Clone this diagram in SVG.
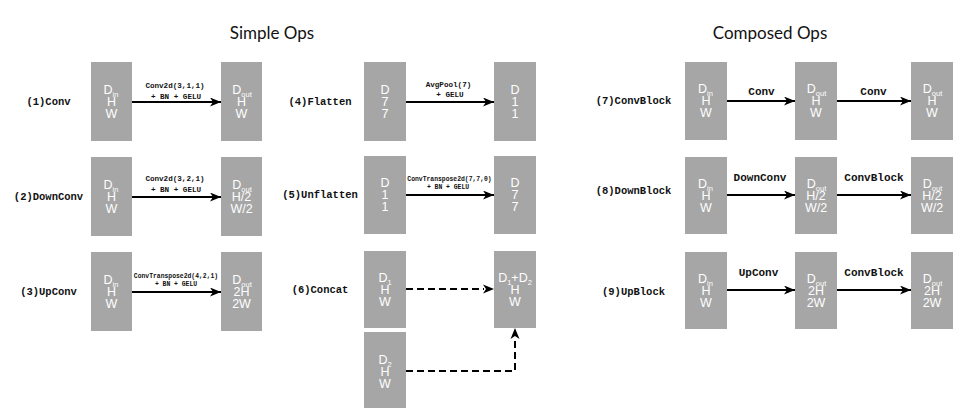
<svg xmlns="http://www.w3.org/2000/svg" width="963" height="408" viewBox="0 0 963 408">
<style>
.box{fill:#a6a6a6}
.bt{font-family:"Liberation Sans",Arial,sans-serif;font-size:12.5px;fill:#ffffff;text-anchor:middle}
.sub{font-size:7.5px}
.op{font-family:"Liberation Mono","Courier New",monospace;font-weight:bold;font-size:10.5px;fill:#111;text-anchor:middle}
.el{font-family:"Liberation Mono","Courier New",monospace;font-weight:bold;font-size:7.6px;fill:#111;text-anchor:middle}
.es{font-family:"Liberation Mono","Courier New",monospace;font-weight:bold;font-size:6.4px;fill:#111;text-anchor:middle}
.cl{font-family:"Liberation Mono","Courier New",monospace;font-weight:bold;font-size:11px;fill:#111;text-anchor:middle}
.title{font-family:Lato,"Open Sans",sans-serif;font-size:17px;fill:#111;text-anchor:middle}
.ar{stroke:#000;stroke-width:2;fill:none;marker-end:url(#ah)}
.da{stroke:#000;stroke-width:2;fill:none;stroke-dasharray:7,4}
</style>
<defs>
<marker id="ah" markerUnits="userSpaceOnUse" markerWidth="12" markerHeight="10" refX="11" refY="4.5" orient="auto">
<path d="M0,0 L11,4.5 L0,9 L3,4.5 z" fill="#000"/>
</marker>
</defs>
<rect width="963" height="408" fill="#ffffff"/>
<text class="title" x="272" y="39">Simple Ops</text>
<text class="title" x="770" y="39">Composed Ops</text>

<!-- labels -->
<g id="labels">
<text class="op" x="48.5" y="105">(1)Conv</text>
<text class="op" x="48.5" y="200">(2)DownConv</text>
<text class="op" x="48.5" y="295">(3)UpConv</text>
<text class="op" x="320" y="105">(4)Flatten</text>
<text class="op" x="320" y="198">(5)Unflatten</text>
<text class="op" x="320" y="293">(6)Concat</text>
<text class="op" x="633.5" y="104">(7)ConvBlock</text>
<text class="op" x="633.5" y="194">(8)DownBlock</text>
<text class="op" x="633.5" y="295">(9)UpBlock</text>
</g>

<!-- Row 1 -->
<g id="conv-in"><rect class="box" x="91" y="62" width="41" height="79"/>
<text class="bt" x="111" y="94">D<tspan class="sub" dy="2.5">in</tspan></text><text class="bt" x="111.5" y="106">H</text><text class="bt" x="111.5" y="118">W</text></g>
<g id="conv-out"><rect class="box" x="221" y="62" width="41" height="79"/>
<text class="bt" x="242" y="94">D<tspan class="sub" dy="2.5">out</tspan></text><text class="bt" x="241.5" y="106">H</text><text class="bt" x="241.5" y="118">W</text></g>
<!-- Row 2 -->
<g id="down-in"><rect class="box" x="91" y="157" width="41" height="79"/>
<text class="bt" x="111" y="189">D<tspan class="sub" dy="2.5">in</tspan></text><text class="bt" x="111.5" y="201">H</text><text class="bt" x="111.5" y="213">W</text></g>
<g id="down-out"><rect class="box" x="221" y="157" width="41" height="79"/>
<text class="bt" x="242" y="189">D<tspan class="sub" dy="2.5">out</tspan></text><text class="bt" x="241.5" y="201">H/2</text><text class="bt" x="241.5" y="213">W/2</text></g>
<!-- Row 3 -->
<g id="up-in"><rect class="box" x="91" y="252" width="41" height="79"/>
<text class="bt" x="111" y="284">D<tspan class="sub" dy="2.5">in</tspan></text><text class="bt" x="111.5" y="296">H</text><text class="bt" x="111.5" y="308">W</text></g>
<g id="up-out"><rect class="box" x="221" y="252" width="41" height="79"/>
<text class="bt" x="242" y="284">D<tspan class="sub" dy="2.5">out</tspan></text><text class="bt" x="241.5" y="296">2H</text><text class="bt" x="241.5" y="308">2W</text></g>

<!-- Row 4 -->
<g id="flat-in"><rect class="box" x="364" y="62" width="42" height="79"/>
<text class="bt" x="385" y="94">D</text><text class="bt" x="385" y="106">7</text><text class="bt" x="385" y="118">7</text></g>
<g id="flat-out"><rect class="box" x="494" y="62" width="42" height="79"/>
<text class="bt" x="515" y="94">D</text><text class="bt" x="515" y="106">1</text><text class="bt" x="515" y="118">1</text></g>
<!-- Row 5 -->
<g id="unflat-in"><rect class="box" x="364" y="156" width="42" height="78"/>
<text class="bt" x="385" y="187">D</text><text class="bt" x="385" y="199">1</text><text class="bt" x="385" y="211">1</text></g>
<g id="unflat-out"><rect class="box" x="494" y="156" width="42" height="78"/>
<text class="bt" x="515" y="187">D</text><text class="bt" x="515" y="199">7</text><text class="bt" x="515" y="211">7</text></g>
<!-- Row 6 -->
<g id="cat-in1"><rect class="box" x="364" y="251" width="42" height="77"/>
<text class="bt" x="385" y="282">D<tspan class="sub" dy="2.5">1</tspan></text><text class="bt" x="385" y="294">H</text><text class="bt" x="385" y="306">W</text></g>
<g id="cat-in2"><rect class="box" x="364" y="332" width="42" height="79"/>
<text class="bt" x="385" y="364">D<tspan class="sub" dy="2.5">2</tspan></text><text class="bt" x="385" y="376">H</text><text class="bt" x="385" y="388">W</text></g>
<g id="cat-out"><rect class="box" x="494" y="251" width="42" height="77"/>
<text class="bt" x="515" y="282">D<tspan class="sub" dy="2.5">1</tspan><tspan dy="-2.5">+D</tspan><tspan class="sub" dy="2.5">2</tspan></text><text class="bt" x="515" y="294">H</text><text class="bt" x="515" y="306">W</text></g>

<!-- Row 7 -->
<g id="cb-in"><rect class="box" x="685" y="62" width="42" height="78"/>
<text class="bt" x="705.5" y="93">D<tspan class="sub" dy="2.5">in</tspan></text><text class="bt" x="706" y="105">H</text><text class="bt" x="706" y="117">W</text></g>
<g id="cb-mid"><rect class="box" x="795" y="62" width="42" height="78"/>
<text class="bt" x="816.5" y="93">D<tspan class="sub" dy="2.5">out</tspan></text><text class="bt" x="816" y="105">H</text><text class="bt" x="816" y="117">W</text></g>
<g id="cb-out"><rect class="box" x="911" y="62" width="42" height="78"/>
<text class="bt" x="932.5" y="93">D<tspan class="sub" dy="2.5">out</tspan></text><text class="bt" x="932" y="105">H</text><text class="bt" x="932" y="117">W</text></g>
<!-- Row 8 -->
<g id="db-in"><rect class="box" x="685" y="157" width="42" height="77"/>
<text class="bt" x="705.5" y="188">D<tspan class="sub" dy="2.5">in</tspan></text><text class="bt" x="706" y="200">H</text><text class="bt" x="706" y="212">W</text></g>
<g id="db-mid"><rect class="box" x="795" y="157" width="42" height="77"/>
<text class="bt" x="816.5" y="188">D<tspan class="sub" dy="2.5">out</tspan></text><text class="bt" x="816" y="200">H/2</text><text class="bt" x="816" y="212">W/2</text></g>
<g id="db-out"><rect class="box" x="911" y="157" width="42" height="77"/>
<text class="bt" x="932.5" y="188">D<tspan class="sub" dy="2.5">out</tspan></text><text class="bt" x="932" y="200">H/2</text><text class="bt" x="932" y="212">W/2</text></g>
<!-- Row 9 -->
<g id="ub-in"><rect class="box" x="685" y="252" width="42" height="77"/>
<text class="bt" x="705.5" y="283">D<tspan class="sub" dy="2.5">in</tspan></text><text class="bt" x="706" y="295">H</text><text class="bt" x="706" y="307">W</text></g>
<g id="ub-mid"><rect class="box" x="795" y="252" width="42" height="77"/>
<text class="bt" x="816.5" y="283">D<tspan class="sub" dy="2.5">out</tspan></text><text class="bt" x="816" y="295">2H</text><text class="bt" x="816" y="307">2W</text></g>
<g id="ub-out"><rect class="box" x="911" y="252" width="42" height="77"/>
<text class="bt" x="932.5" y="283">D<tspan class="sub" dy="2.5">out</tspan></text><text class="bt" x="932" y="295">2H</text><text class="bt" x="932" y="307">2W</text></g>

<!-- connectors -->
<g id="connectors">
<line class="ar" x1="132" y1="102" x2="221" y2="102"/>
<line class="ar" x1="132" y1="197" x2="221" y2="197"/>
<line class="ar" x1="132" y1="292" x2="221" y2="292"/>
<line class="ar" x1="406" y1="102" x2="494" y2="102"/>
<line class="ar" x1="406" y1="195" x2="494" y2="195"/>
<line class="da" x1="406" y1="289" x2="484" y2="289"/>
<path d="M483,284.5 L494,289 L483,293.5 L486,289 z" fill="#000"/>
<path class="da" d="M406,371 H515 V340"/>
<path d="M510.5,339 L515,328 L519.5,339 L515,336 z" fill="#000"/>
<line class="ar" x1="727" y1="101" x2="795" y2="101"/>
<line class="ar" x1="837" y1="101" x2="911" y2="101"/>
<line class="ar" x1="727" y1="195" x2="795" y2="195"/>
<line class="ar" x1="837" y1="195" x2="911" y2="195"/>
<line class="ar" x1="727" y1="290" x2="795" y2="290"/>
<line class="ar" x1="837" y1="290" x2="911" y2="290"/>
<text class="el" x="175" y="88">Conv2d(3,1,1)</text>
<text class="el" x="176" y="99">+ BN + GELU</text>
<text class="el" x="175" y="181">Conv2d(3,2,1)</text>
<text class="el" x="176" y="192">+ BN + GELU</text>
<text class="es" x="176" y="278">ConvTranspose2d(4,2,1)</text>
<text class="es" x="176" y="286">+ BN + GELU</text>
<text class="el" x="448.5" y="87">AvgPool(7)</text>
<text class="el" x="450" y="97">+ GELU</text>
<text class="es" x="449.5" y="181">ConvTranspose2d(7,7,0)</text>
<text class="es" x="448" y="189">+ BN + GELU</text>
<text class="cl" x="761.5" y="95">Conv</text>
<text class="cl" x="873.5" y="95">Conv</text>
<text class="cl" x="760" y="181">DownConv</text>
<text class="cl" x="874" y="181">ConvBlock</text>
<text class="cl" x="758.5" y="276">UpConv</text>
<text class="cl" x="874" y="276">ConvBlock</text>
</g>
</svg>
